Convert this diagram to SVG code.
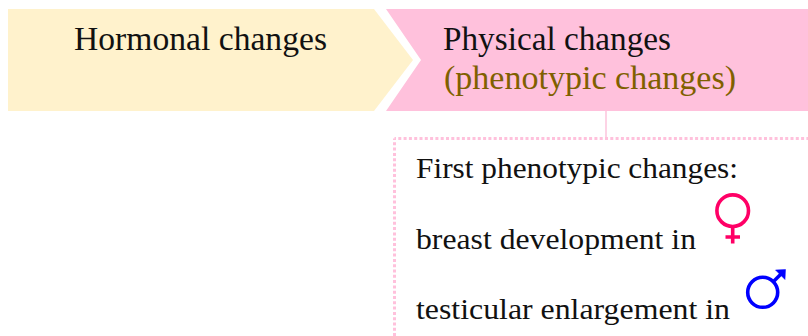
<svg xmlns="http://www.w3.org/2000/svg" width="808" height="336" viewBox="0 0 808 336">
<style>
text{font-family:"Liberation Serif","Times New Roman",serif;fill:#111}
.h{font-size:34px}
.b{font-size:30px}
.sym{fill:none;stroke-width:3.6}
.dot{fill:none;stroke:#ffc1dc;stroke-width:3;stroke-dasharray:3 2.3;stroke-dashoffset:1.5}
</style>
<rect width="808" height="336" fill="#fff"/>
<g id="connectors"><path d="M606 111V138" stroke="#fcc4dc" stroke-width="1.5" fill="none"/></g>
<g id="hormonal"><path d="M8 9H374L413 60L374 111H8Z" fill="#fff2cc"/><text class="h" x="74" y="50" textLength="253" lengthAdjust="spacingAndGlyphs">Hormonal changes</text></g>
<g id="physical"><path d="M386 9H808V111H386L421 60Z" fill="#ffc1dc"/><text class="h" x="443" y="50" textLength="228" lengthAdjust="spacingAndGlyphs">Physical changes</text><text class="h" x="444" y="89" textLength="292" lengthAdjust="spacingAndGlyphs" style="fill:#7f6000">(phenotypic changes)</text></g>
<g id="phenotypic">
<path class="dot" d="M394.5 138.5H808"/><path class="dot" d="M394.5 138.5V336"/>
<text class="b" x="416" y="178" textLength="322" lengthAdjust="spacingAndGlyphs">First phenotypic changes:</text>
<text class="b" x="416" y="249" textLength="280" lengthAdjust="spacingAndGlyphs">breast development in</text>
<text class="b" x="416" y="319" textLength="314" lengthAdjust="spacingAndGlyphs">testicular enlargement in</text>
<g id="female" class="sym" stroke="#ff0066"><circle cx="732.7" cy="210.7" r="15.8"/><path d="M732.7 226V243.5M725.5 237H740"/></g>
<g id="male" stroke="#0000ff"><circle class="sym" cx="762.7" cy="292.3" r="15"/><path class="sym" d="M773 282L781 274"/><path d="M785.5 269.5L785 279.5L775.5 270Z" fill="#0000ff" stroke="#0000ff" stroke-width="0.5"/></g>
</g>
</svg>
